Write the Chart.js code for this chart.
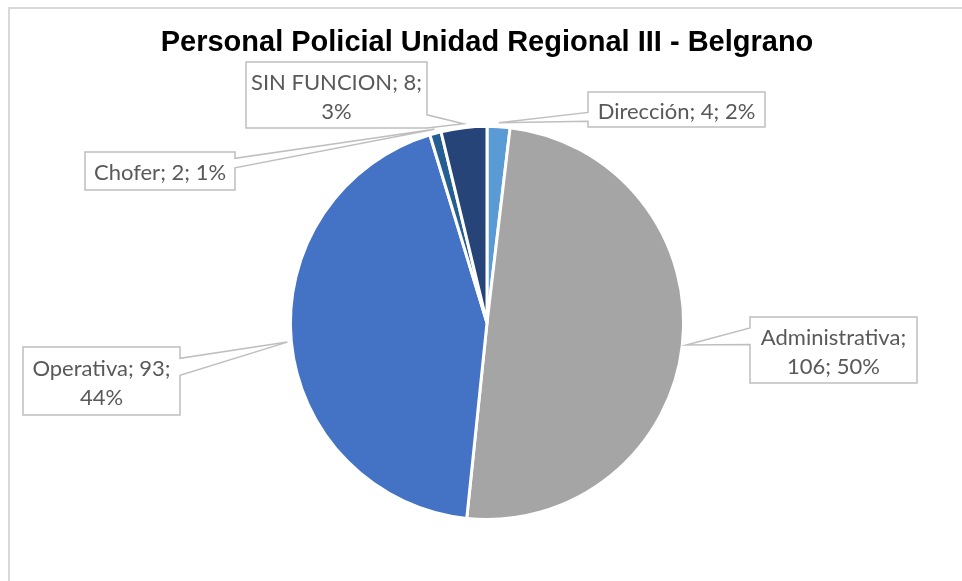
<!DOCTYPE html>
<html>
<head>
<meta charset="utf-8">
<script src="https://cdn.jsdelivr.net/npm/chart.js@4"></script>
<style>
    html, body { margin: 0; padding: 0; background: #fff; }
    #wrap { position: relative; width: 962px; height: 581px; overflow: hidden; }
    #frame {
        position: absolute; left: 8px; top: 7px; width: 1000px; height: 1000px;
        border-left: 2px solid #d9d9d9; border-top: 2px solid #d9d9d9;
    }
    canvas { position: absolute; left: 0; top: 0; }
</style>
</head>
<body>
<div id="wrap">
    <div id="frame"></div>
    <canvas id="chart" width="962" height="581"></canvas>
</div>
<script>
const categories = ['Dirección', 'Administrativa', 'Operativa', 'Chofer', 'SIN FUNCION'];
const counts = [4, 106, 93, 2, 8];
const percents = [2, 50, 44, 1, 3];
const labelLines = [
    ['Dirección; 4; 2%'],
    ['Administrativa;', '106; 50%'],
    ['Operativa; 93;', '44%'],
    ['Chofer; 2; 1%'],
    ['SIN FUNCION; 8;', '3%']
];

const colors = ['#5b9bd5', '#a5a5a5', '#4472c4', '#255e91', '#264478'];

// callout boxes: x, y, w, h, side the wedge leaves from, wedge base along that side
const callouts = [
    { x: 588, y: 92, w: 177, h: 35, side: 'left', base: [7 / 12, 5 / 6] },
    { x: 750, y: 317, w: 167, h: 66, side: 'left', base: [1 / 6, 5 / 12] },
    { x: 23, y: 347, w: 157, h: 68, side: 'right', base: [1 / 6, 5 / 12] },
    { x: 85, y: 152, w: 150, h: 38, side: 'right', base: [1 / 6, 5 / 12] },
    { x: 246, y: 62, w: 181, h: 66, side: 'right', base: [0.8, 1] }
];

const calloutPlugin = {
    id: 'callouts',
    afterDatasetsDraw(chart) {
        const ctx = chart.ctx;
        const meta = chart.getDatasetMeta(0);

        meta.data.forEach((arc, i) => {
            const c = callouts[i];
            const mid = (arc.startAngle + arc.endAngle) / 2;
            const tipR = arc.outerRadius + 4;
            const tx = arc.x + Math.cos(mid) * tipR;
            const ty = arc.y + Math.sin(mid) * tipR;

            const pts = [];
            const { x, y, w, h } = c;
            pts.push([x, y], [x + w, y]);
            if (c.side === 'right') {
                pts.push([x + w, y + h * c.base[0]], [tx, ty], [x + w, y + h * c.base[1]]);
            }
            pts.push([x + w, y + h], [x, y + h]);
            if (c.side === 'left') {
                pts.push([x, y + h * c.base[1]], [tx, ty], [x, y + h * c.base[0]]);
            }

            ctx.save();
            ctx.beginPath();
            ctx.moveTo(pts[0][0], pts[0][1]);
            for (let k = 1; k < pts.length; k++) {
                ctx.lineTo(pts[k][0], pts[k][1]);
            }
            ctx.closePath();
            ctx.fillStyle = '#ffffff';
            ctx.fill();
            ctx.lineWidth = 1.5;
            ctx.strokeStyle = '#bfbfbf';
            ctx.lineJoin = 'miter';
            ctx.stroke();

            const lines = labelLines[i];
            const lh = 29;
            ctx.fillStyle = '#595959';
            ctx.font = '22px Lato';
            ctx.textAlign = 'center';
            ctx.textBaseline = 'middle';
            const cy = y + h / 2 + 2 - (lines.length - 1) * lh / 2;
            lines.forEach((t, j) => {
                ctx.fillText(t, x + w / 2, cy + j * lh);
            });
            ctx.restore();
        });
    }
};

new Chart(document.getElementById('chart'), {
    type: 'pie',
    data: {
        labels: categories,
        datasets: [{
            data: counts,
            backgroundColor: colors,
            borderColor: '#ffffff',
            borderWidth: 3
        }]
    },
    options: {
        responsive: false,
        devicePixelRatio: 1,
        animation: false,
        events: [],
        layout: {
            padding: { left: 12, right: 0, top: 0, bottom: 60 }
        },
        plugins: {
            legend: { display: false },
            tooltip: { enabled: false },
            title: {
                display: true,
                text: 'Personal Policial Unidad Regional III - Belgrano',
                color: '#000000',
                font: { family: 'Liberation Sans', size: 29, weight: 'bold', lineHeight: 1.2 },
                padding: { top: 26, bottom: 64 }
            }
        }
    },
    plugins: [calloutPlugin]
});
</script>
</body>
</html>
